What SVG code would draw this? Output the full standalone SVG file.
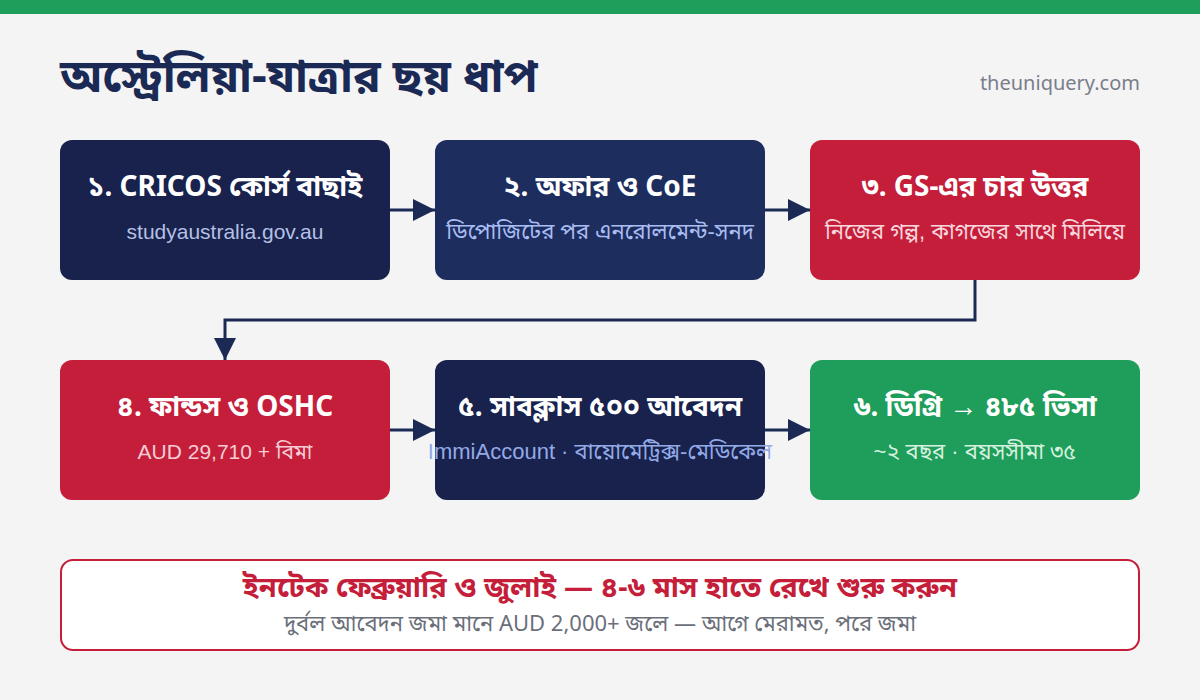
<svg xmlns="http://www.w3.org/2000/svg" width="1200" height="700" viewBox="0 0 1200 700">
<defs>
<marker id="arr" viewBox="0 0 20 20" refX="20" refY="10" markerWidth="22" markerHeight="22" markerUnits="userSpaceOnUse" orient="auto">
<path d="M0,0 L20,10 L0,20 z" fill="#1b2a55"/>
</marker>
<style>
.bn{font-family:"Noto Sans","Noto Sans Bengali","Liberation Sans",sans-serif}
.ttl{font-size:28px;font-weight:700;fill:#ffffff;text-anchor:middle}
.sub{font-size:21px;text-anchor:middle;font-family:"Liberation Sans","Noto Sans","Noto Sans Bengali",sans-serif}
.subb{font-size:22px}
.conn{fill:none;stroke:#1b2a55;stroke-width:3}
</style>
</defs>
<rect x="0" y="0" width="1200" height="700" fill="#f4f4f5"/>
<rect x="0" y="0" width="1200" height="14" fill="#1f9d5a"/>
<text x="60" y="92" class="bn" font-size="46" font-weight="700" fill="#1b2a55">অস্ট্রেলিয়া-যাত্রার ছয় ধাপ</text>
<text x="1140" y="90" class="bn" font-size="20" fill="#7a7e8a" text-anchor="end">theuniquery.com</text>

<g id="connectors">
<line class="conn" x1="390" y1="210" x2="435" y2="210" marker-end="url(#arr)"/>
<line class="conn" x1="765" y1="210" x2="810" y2="210" marker-end="url(#arr)"/>
<polyline class="conn" points="975,280 975,320 225,320 225,360" marker-end="url(#arr)"/>
<line class="conn" x1="390" y1="430" x2="435" y2="430" marker-end="url(#arr)"/>
<line class="conn" x1="765" y1="430" x2="810" y2="430" marker-end="url(#arr)"/>
</g>

<g id="node1">
<rect x="60" y="140" width="330" height="140" rx="12" fill="#18224d"/>
<text x="225" y="196" class="bn ttl">১. CRICOS কোর্স বাছাই</text>
<text x="225" y="239" class="sub" fill="#b4c0e4">studyaustralia.gov.au</text>
</g>
<g id="node2">
<rect x="435" y="140" width="330" height="140" rx="12" fill="#1d2d5e"/>
<text x="600" y="196" class="bn ttl">২. অফার ও CoE</text>
<text x="600" y="239" class="sub subb" fill="#a9bdf2">ডিপোজিটের পর এনরোলমেন্ট-সনদ</text>
</g>
<g id="node3">
<rect x="810" y="140" width="330" height="140" rx="12" fill="#c41e3a"/>
<text x="975" y="196" class="bn ttl">৩. GS-এর চার উত্তর</text>
<text x="975" y="239" class="sub subb" fill="#f8d6dd">নিজের গল্প, কাগজের সাথে মিলিয়ে</text>
</g>
<g id="node4">
<rect x="60" y="360" width="330" height="140" rx="12" fill="#c41e3a"/>
<text x="225" y="416" class="bn ttl">৪. ফান্ডস ও OSHC</text>
<text x="225" y="459" class="sub" fill="#f6cdd5">AUD 29,710 + বিমা</text>
</g>
<g id="node5">
<rect x="435" y="360" width="330" height="140" rx="12" fill="#18224d"/>
<text x="600" y="416" class="bn ttl">৫. সাবক্লাস ৫০০ আবেদন</text>
<text x="600" y="459" class="sub subb" fill="#93aae6">ImmiAccount · বায়োমেট্রিক্স-মেডিকেল</text>
</g>
<g id="node6">
<rect x="810" y="360" width="330" height="140" rx="12" fill="#1f9d5a"/>
<text x="975" y="416" class="bn ttl">৬. ডিগ্রি → ৪৮৫ ভিসা</text>
<text x="975" y="459" class="sub subb" fill="#d6f1df">~২ বছর · বয়সসীমা ৩৫</text>
</g>

<g id="note">
<rect x="61" y="560" width="1078" height="90" rx="12" fill="#ffffff" stroke="#c41e3a" stroke-width="2"/>
<text x="600" y="597" class="bn" font-size="29" font-weight="700" fill="#c41e3a" text-anchor="middle">ইনটেক ফেব্রুয়ারি ও জুলাই — ৪-৬ মাস হাতে রেখে শুরু করুন</text>
<text x="600" y="631" class="bn" font-size="22" fill="#6b6f7a" text-anchor="middle">দুর্বল আবেদন জমা মানে AUD 2,000+ জলে — আগে মেরামত, পরে জমা</text>
</g>
</svg>
